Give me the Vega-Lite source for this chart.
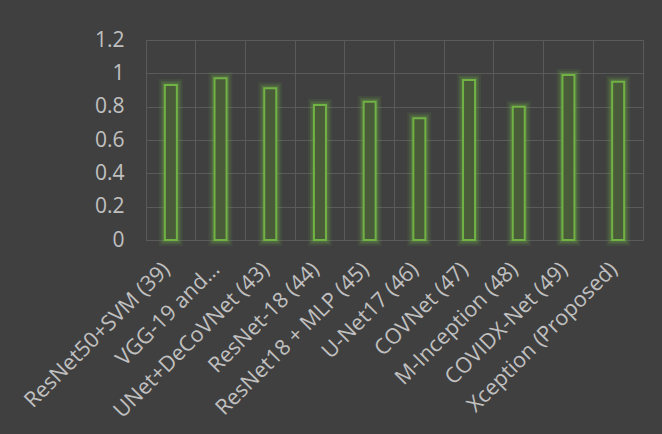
{
  "$schema": "https://vega.github.io/schema/vega-lite/v6.json",
  "autosize": {"type": "none"},
  "width": 497,
  "height": 200,
  "padding": {"left": 146, "top": 40, "right": 19, "bottom": 194},
  "background": "#404040",
  "config": {
    "view": {"stroke": "#5a5a5a", "strokeWidth": 1},
    "axis": {
      "labelFont": "Open Sans",
      "labelColor": "#c0c0c0",
      "labelFontSize": 21,
      "gridColor": "#5a5a5a",
      "gridWidth": 1,
      "domain": false,
      "ticks": false,
      "title": null
    }
  },
  "data": {
    "values": [
      {"model": "ResNet50+SVM (39)", "score": 0.93},
      {"model": "VGG-19 and…", "score": 0.97},
      {"model": "UNet+DeCoVNet (43)", "score": 0.91},
      {"model": "ResNet-18 (44)", "score": 0.81},
      {"model": "ResNet18 + MLP (45)", "score": 0.83},
      {"model": "U-Net17 (46)", "score": 0.73},
      {"model": "COVNet (47)", "score": 0.96},
      {"model": "M-Inception (48)", "score": 0.80},
      {"model": "COVIDX-Net (49)", "score": 0.99},
      {"model": "Xception (Proposed)", "score": 0.95}
    ]
  },
  "encoding": {
    "x": {
      "field": "model",
      "type": "nominal",
      "sort": null,
      "scale": {"paddingInner": 0, "paddingOuter": 0},
      "axis": {
        "grid": true,
        "bandPosition": 0,
        "labelAngle": -45,
        "labelAlign": "right",
        "labelBaseline": "middle",
        "labelFontSize": 21.5,
        "labelPadding": 26,
        "labelOffset": -4,
        "labelLimit": 400
      }
    },
    "y": {
      "field": "score",
      "type": "quantitative",
      "scale": {"domain": [0, 1.2], "nice": false},
      "axis": {
        "values": [0, 0.2, 0.4, 0.6, 0.8, 1, 1.2],
        "format": ".1~f",
        "grid": true,
        "labelPadding": 22
      }
    }
  },
  "layer": [
    {
      "mark": {"type": "bar", "size": 12, "fillOpacity": 0, "stroke": "#70ad47", "strokeWidth": 12, "strokeOpacity": 0.1}
    },
    {
      "mark": {"type": "bar", "size": 12, "fillOpacity": 0, "stroke": "#70ad47", "strokeWidth": 8, "strokeOpacity": 0.16}
    },
    {
      "mark": {"type": "bar", "size": 12, "fillOpacity": 0, "stroke": "#70ad47", "strokeWidth": 5, "strokeOpacity": 0.22}
    },
    {
      "mark": {"type": "bar", "size": 12, "fill": "#4a5b3a", "stroke": "#70b244", "strokeWidth": 2}
    }
  ]
}
